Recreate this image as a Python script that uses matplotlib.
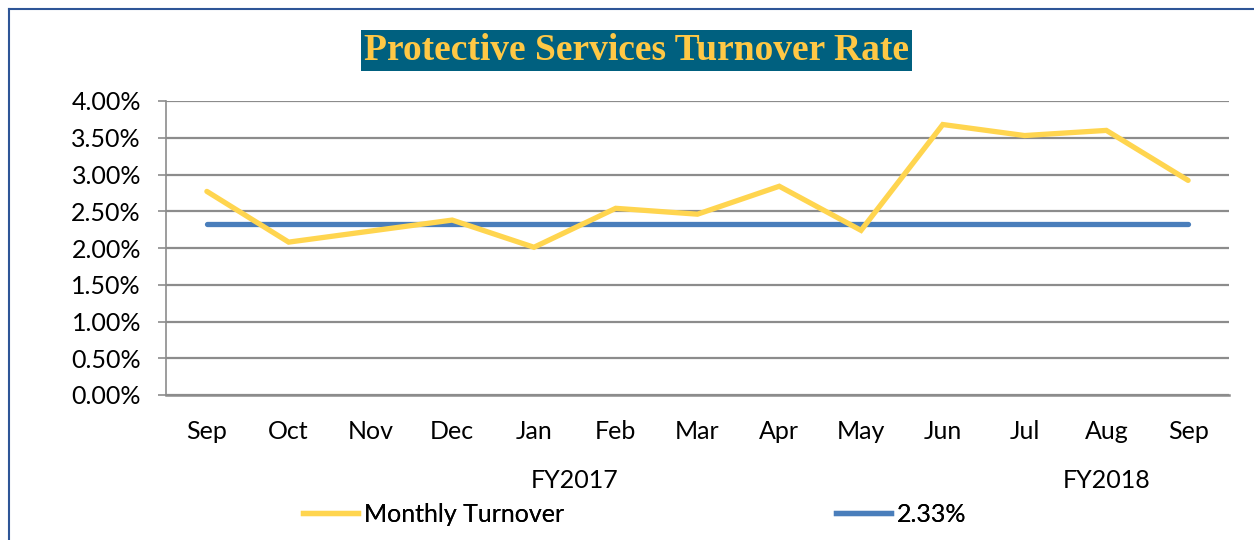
import matplotlib
matplotlib.use("Agg")
import matplotlib.pyplot as plt
from matplotlib.lines import Line2D
from matplotlib.ticker import PercentFormatter

# data
months = ["Sep", "Oct", "Nov", "Dec", "Jan", "Feb", "Mar", "Apr", "May",
          "Jun", "Jul", "Aug", "Sep"]
monthly_turnover = [2.77, 2.08, 2.23, 2.38, 2.01, 2.54, 2.46, 2.84, 2.24,
                    3.68, 3.53, 3.60, 2.92]
average_rate = 2.33
fy_labels = ["FY2017", "FY2018"]
fy_positions = [4.5, 11]

plt.rcParams['font.family'] = ['Lato', 'DejaVu Sans']
FS = 18

W, H = 1254, 540
fig = plt.figure(figsize=(W / 100, H / 100), dpi=100)
ax = fig.add_axes([166 / W, 1 - 395 / H, (1229 - 166) / W, (395 - 101) / H])

x = list(range(len(months)))
yellow = "#FFD54F"
blue = "#4A7EBB"
ax.plot(x, monthly_turnover, color=yellow, lw=3.8, solid_capstyle="round",
        solid_joinstyle="miter", zorder=3)
ax.plot(x, [average_rate] * len(x), color=blue, lw=3.8, solid_capstyle="round", zorder=2)

ax.set_xlim(-0.5, len(months) - 0.5)
ax.set_ylim(0, 4)
ax.set_yticks([i * 0.5 for i in range(9)])
ax.yaxis.set_major_formatter(PercentFormatter(decimals=2))
ax.set_xticks(x)
ax.set_xticklabels(months)
ax.grid(axis="y", color="#8C8C8C", lw=1.6)
ax.set_axisbelow(True)
for s in ["top", "right"]:
    ax.spines[s].set_visible(False)
ax.spines["left"].set_color("#8C8C8C")
ax.spines["left"].set_linewidth(1.2)
ax.spines["bottom"].set_color("#8C8C8C")
ax.spines["bottom"].set_linewidth(1.8)
ax.tick_params(axis="y", length=6, width=1.2, color="#8C8C8C", labelsize=FS, pad=12)
ax.tick_params(axis="x", length=0, labelsize=FS, pad=18)

# fiscal-year labels under the month axis
for pos, lab in zip(fy_positions, fy_labels):
    ax.text(pos, -(481 - 395) / (395 - 101), lab, transform=ax.get_xaxis_transform(),
            ha="center", va="center", fontsize=FS)

# title on a teal band
fig.text(636 / W, 1 - 50 / H, "Protective Services Turnover Rate",
         ha="center", va="center", fontsize=27, fontweight="bold",
         family=["Liberation Serif", "DejaVu Serif"], color="#FFC845",
         bbox=dict(boxstyle="square,pad=0.08", facecolor="#00607F", edgecolor="none"))

# legend, one entry at a time so each sits where it does in the original
entries = [(Line2D([], [], color=yellow, lw=3.8), "Monthly Turnover", 303),
           (Line2D([], [], color=blue, lw=3.8), f"{average_rate:.2f}%", 836)]
for handle, label, left in entries:
    leg = fig.legend([handle], [label], loc="center left",
                     bbox_to_anchor=(left / W, 1 - 514 / H), frameon=False,
                     fontsize=FS, handlelength=2.2, handletextpad=0.25,
                     borderpad=0, borderaxespad=0)
    fig.add_artist(leg)

# blue border on top and left
fig.add_artist(Line2D([9 / W, 9 / W], [0, 1 - 9 / H], color="#2E5597", lw=1.5,
                      transform=fig.transFigure))
fig.add_artist(Line2D([9 / W, 1], [1 - 9 / H, 1 - 9 / H], color="#2E5597", lw=1.5,
                      transform=fig.transFigure))

fig.savefig("out.png", dpi=100, facecolor="white")
